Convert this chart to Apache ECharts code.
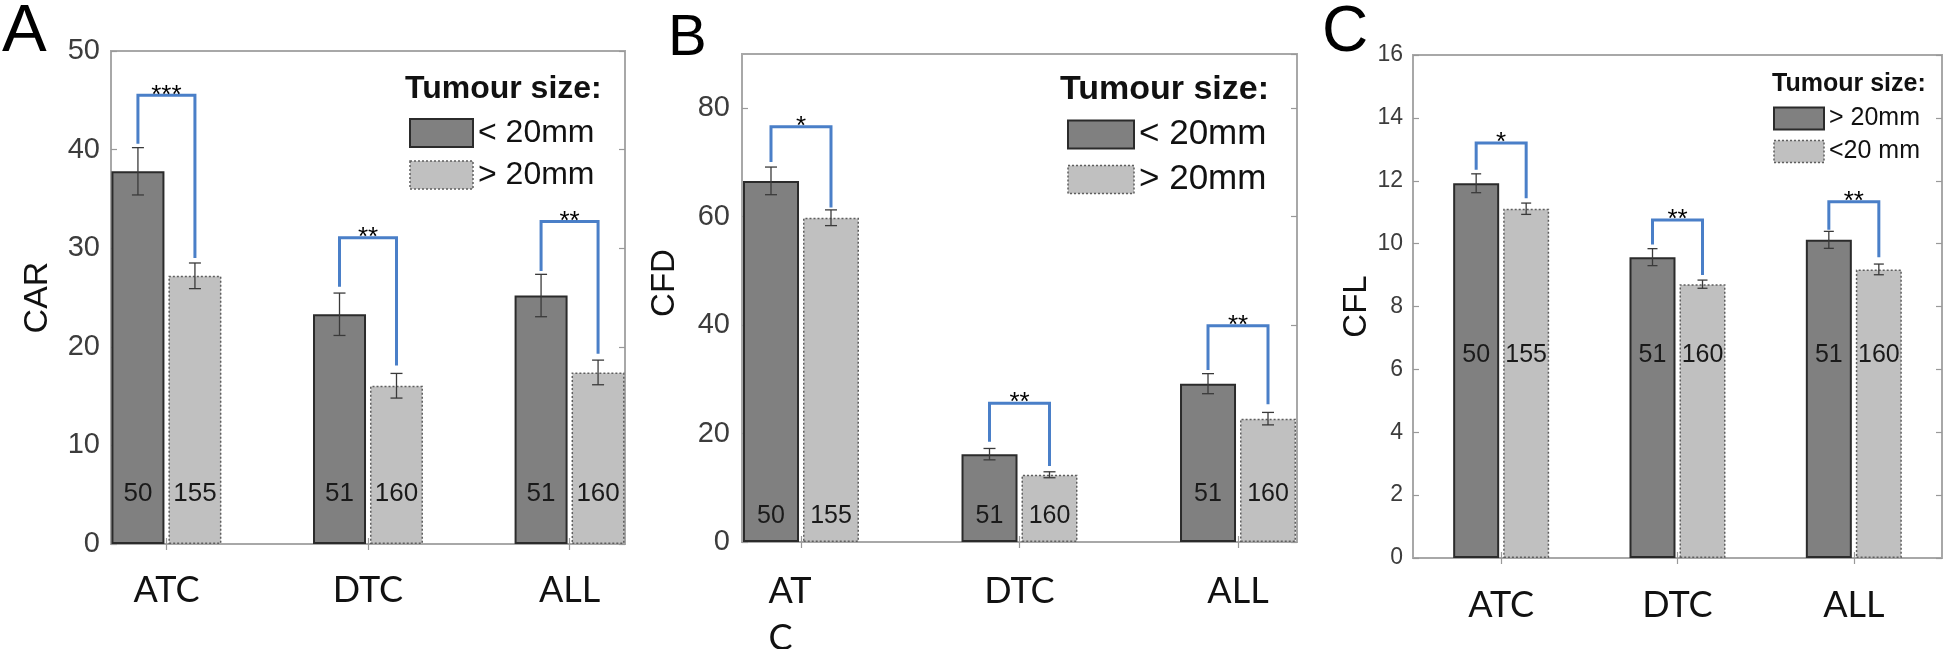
<!DOCTYPE html>
<html>
<head>
<meta charset="utf-8">
<script src="https://cdn.jsdelivr.net/npm/echarts@6/dist/echarts.min.js"></script>
<style>
  html, body { margin: 0; padding: 0; background: #fff; }
  #chart { width: 1946px; height: 649px; }
</style>
</head>
<body>
<div id="chart"></div>
<script>
var categories = ['ATC', 'DTC', 'ALL'];

// panel A - CAR
var carSmall = [37.8, 23.3, 25.2];
var carSmallErr = [2.4, 2.15, 2.15];
var carLarge = [27.2, 16.05, 17.4];
var carLargeErr = [1.3, 1.25, 1.25];
var carCountSmall = [50, 51, 51];
var carCountLarge = [155, 160, 160];
var carCountY = [5.1, 5.1, 5.1];
var carBracket = [[40.6, 45.5, 29.0], [26.1, 31.05, 18.1], [27.7, 32.7, 19.3]];
var carStars = ['***', '**', '**'];

// panel B - CFD
var cfdSmall = [66.6, 16.2, 29.2];
var cfdSmallErr = [2.55, 1.05, 1.85];
var cfdLarge = [59.8, 12.4, 22.75];
var cfdLargeErr = [1.45, 0.55, 1.15];
var cfdCountSmall = [50, 51, 51];
var cfdCountLarge = [155, 160, 160];
var cfdCountY = [4.8, 4.8, 8.85];
var cfdBracket = [[70.1, 76.6, 61.7], [18.5, 25.6, 14.0], [31.7, 39.9, 25.4]];
var cfdStars = ['*', '**', '**'];

// panel C - CFL
var cflDark = [11.92, 9.57, 10.12];
var cflDarkErr = [0.3, 0.27, 0.27];
var cflLight = [11.11, 8.71, 9.18];
var cflLightErr = [0.18, 0.13, 0.17];
var cflCountDark = [50, 51, 51];
var cflCountLight = [155, 160, 160];
var cflCountY = [6.45, 6.45, 6.45];
var cflBracket = [[12.35, 13.2, 11.44], [9.97, 10.75, 9.0], [10.44, 11.33, 9.57]];
var cflStars = ['*', '**', '**'];

var sans = "'Liberation Sans', Arial, sans-serif";
var darkStyle = { color: '#808080', borderColor: '#2b2b2b', borderWidth: 2, borderType: 'solid' };
var lightStyle = { color: '#c0c0c0', borderColor: '#5e5e5e', borderWidth: 1.5, borderType: [2, 2] };

var panels = [
  { letter: 'A', letterPos: [2, -1, 67], yName: 'CAR', nameGap: 56, nameFont: 34, namePad: [0, 0, 0, 0],
    grid: { left: 111, top: 51, width: 514, height: 493 }, xMin: 0.725, xMax: 3.275,
    yMax: 50, yStep: 10, yFont: 29, yMargin: 11, xMargin: 28, lineH: null,
    barW: 53, gap: 4, cap: 6, starFont: 26, countFont: 26,
    names: ['< 20mm', '> 20mm'], dark: carSmall, darkErr: carSmallErr, light: carLarge, lightErr: carLargeErr,
    nDark: carCountSmall, nLight: carCountLarge, nY: carCountY, bracket: carBracket, stars: carStars,
    legendTitle: [405, 73, 32], legend: [409, 117, 63, 28, 10, 32] },
  { letter: 'B', letterPos: [668, 10, 58], yName: 'CFD', nameGap: 61, nameFont: 33, namePad: [0, 0, 0, 30],
    grid: { left: 742, top: 54, width: 555, height: 488 }, xMin: 0.73, xMax: 3.27,
    yMax: 90, yStep: 20, yFont: 29, yMargin: 12, xMargin: 26, lineH: 47,
    barW: 56, gap: 4, cap: 6, starFont: 26, countFont: 25,
    names: ['< 20mm', '> 20mm'], dark: cfdSmall, darkErr: cfdSmallErr, light: cfdLarge, lightErr: cfdLargeErr,
    nDark: cfdCountSmall, nLight: cfdCountLarge, nY: cfdCountY, bracket: cfdBracket, stars: cfdStars,
    legendTitle: [1060, 73, 34], legend: [1067, 117, 66, 28, 10, 35] },
  { letter: 'C', letterPos: [1322, 1, 64], yName: 'CFL', nameGap: 35, nameFont: 33, namePad: [0, 0, 0, 0],
    grid: { left: 1413, top: 55, width: 529, height: 503 }, xMin: 0.5, xMax: 3.5,
    yMax: 16, yStep: 2, yFont: 23, yMargin: 10, xMargin: 29, lineH: null,
    barW: 46, gap: 4, cap: 5, starFont: 26, countFont: 25,
    names: ['> 20mm', '<20 mm'], dark: cflDark, darkErr: cflDarkErr, light: cflLight, lightErr: cflLightErr,
    nDark: cflCountDark, nLight: cflCountLight, nY: cflCountY, bracket: cflBracket, stars: cflStars,
    legendTitle: [1772, 72, 25], legend: [1773, 106, 50, 22, 8, 25] }
];

function errorItem(off, cap) {
  return function (params, api) {
    var c = api.value(0), v = api.value(1), e = api.value(2);
    var x = api.coord([c, v])[0] + api.value(3) * off;
    var hi = api.coord([c, v + e])[1];
    var lo = api.coord([c, v - e])[1];
    var st = { stroke: '#3a3a3a', lineWidth: 1.3 };
    return { type: 'group', children: [
      { type: 'line', shape: { x1: x, y1: hi, x2: x, y2: lo }, style: st },
      { type: 'line', shape: { x1: x - cap, y1: hi, x2: x + cap, y2: hi }, style: st },
      { type: 'line', shape: { x1: x - cap, y1: lo, x2: x + cap, y2: lo }, style: st }
    ] };
  };
}

function bracketItem(off, stars, font) {
  return function (params, api) {
    var c = api.value(0);
    var xm = api.coord([c, 0])[0];
    var y1 = api.coord([c, api.value(1)])[1];
    var yt = api.coord([c, api.value(2)])[1];
    var y2 = api.coord([c, api.value(3)])[1];
    return { type: 'group', children: [
      { type: 'polyline', shape: { points: [[xm - off, y1], [xm - off, yt], [xm + off, yt], [xm + off, y2]] },
        style: { stroke: '#4a7fc8', lineWidth: 3, fill: null } },
      { type: 'text', x: xm, y: yt, style: { text: stars[params.dataIndex], fill: '#000',
        font: font + 'px ' + sans, align: 'center', verticalAlign: 'middle' } }
    ] };
  };
}

function countItem(off, font) {
  return function (params, api) {
    var p = api.coord([api.value(0), api.value(1)]);
    return { type: 'text', x: p[0] + api.value(2) * off, y: p[1],
      style: { text: String(api.value(3)), fill: '#1a1a1a', font: font + 'px ' + sans,
        align: 'center', verticalAlign: 'middle' } };
  };
}

var option = {
  animation: false,
  title: [], legend: [], grid: [], xAxis: [], yAxis: [], series: []
};

panels.forEach(function (p, gi) {
  var xi = gi * 2;
  var off = (p.barW + p.gap) / 2;
  option.grid.push(Object.assign({ show: true, borderColor: '#a8a8a8', borderWidth: 2,
    containLabel: false, outerBoundsMode: 'none' }, p.grid));

  option.title.push({ text: p.letter, left: p.letterPos[0], top: p.letterPos[1], padding: 0,
    textStyle: { fontSize: p.letterPos[2], fontWeight: 'normal', color: '#000', fontFamily: sans } });
  option.title.push({ text: 'Tumour size:', left: p.legendTitle[0], top: p.legendTitle[1], padding: 0,
    textStyle: { fontSize: p.legendTitle[2], fontWeight: 'bold', color: '#111', fontFamily: sans } });

  option.legend.push({
    orient: 'vertical', left: p.legend[0], top: p.legend[1], padding: 0,
    itemWidth: p.legend[2], itemHeight: p.legend[3], itemGap: p.legend[4], icon: 'rect',
    selectedMode: false,
    textStyle: { fontSize: p.legend[5], color: '#111', fontFamily: sans },
    data: [{ name: p.names[0], itemStyle: darkStyle }, { name: p.names[1], itemStyle: lightStyle }]
  });

  var tickOpt = { show: true, inside: true, length: 6, lineStyle: { color: '#999', width: 1.2 } };
  option.xAxis.push({
    type: 'value', gridIndex: gi, min: p.xMin, max: p.xMax, position: 'bottom',
    splitLine: { show: false }, axisLine: { show: false },
    axisTick: Object.assign({ customValues: [1, 2, 3] }, tickOpt),
    axisLabel: {
      customValues: [1, 2, 3], margin: p.xMargin, fontSize: 36, fontFamily: 'Lato, sans-serif', color: '#111',
      lineHeight: p.lineH || undefined,
      formatter: function (v) {
        var name = categories[Math.round(v) - 1];
        // panel B wraps its first label
        if (p.letter === 'B' && name === 'ATC') return '{a|AT}\n{a|C}';
        return name;
      },
      rich: { a: { align: 'left', fontSize: 36, fontFamily: 'Lato, sans-serif', color: '#111',
        lineHeight: 47, padding: [0, 22, 0, 0] } }
    }
  });
  option.xAxis.push({
    type: 'value', gridIndex: gi, min: p.xMin, max: p.xMax, position: 'top',
    splitLine: { show: false }, axisLine: { show: false }, axisLabel: { show: false },
    axisTick: Object.assign({ customValues: [1, 2, 3] }, tickOpt)
  });
  option.yAxis.push({
    type: 'value', gridIndex: gi, min: 0, max: p.yMax, interval: p.yStep, position: 'left',
    name: p.yName, nameLocation: 'middle', nameGap: p.nameGap,
    nameTextStyle: { fontSize: p.nameFont, color: '#111', fontFamily: sans, padding: p.namePad },
    splitLine: { show: false }, axisLine: { show: false }, axisTick: tickOpt,
    axisLabel: { fontSize: p.yFont, color: '#3c3c3c', fontFamily: sans, margin: p.yMargin, showMaxLabel: p.yMax % p.yStep === 0 }
  });
  option.yAxis.push({
    type: 'value', gridIndex: gi, min: 0, max: p.yMax, interval: p.yStep, position: 'right',
    splitLine: { show: false }, axisLine: { show: false }, axisLabel: { show: false }, axisTick: tickOpt
  });

  var pos = function (arr) { return arr.map(function (v, i) { return [i + 1, v]; }); };
  var gapPct = (p.gap / p.barW * 100).toFixed(1) + '%';
  option.series.push({
    type: 'bar', name: p.names[0], xAxisIndex: xi, yAxisIndex: xi, data: pos(p.dark),
    barWidth: p.barW, barGap: gapPct, itemStyle: darkStyle, silent: true
  });
  option.series.push({
    type: 'bar', name: p.names[1], xAxisIndex: xi, yAxisIndex: xi, data: pos(p.light),
    barWidth: p.barW, barGap: gapPct, itemStyle: lightStyle, silent: true
  });

  var errData = [], cntData = [];
  for (var i = 0; i < categories.length; i++) {
    errData.push([i + 1, p.dark[i], p.darkErr[i], -1]);
    errData.push([i + 1, p.light[i], p.lightErr[i], 1]);
    cntData.push([i + 1, p.nY[i], -1, p.nDark[i]]);
    cntData.push([i + 1, p.nY[i], 1, p.nLight[i]]);
  }
  option.series.push({
    type: 'custom', xAxisIndex: xi, yAxisIndex: xi, silent: true, z: 5,
    encode: { x: 0, y: 1 }, data: errData, renderItem: errorItem(off, p.cap)
  });
  option.series.push({
    type: 'custom', xAxisIndex: xi, yAxisIndex: xi, silent: true, z: 6,
    encode: { x: 0, y: 1 }, data: cntData, renderItem: countItem(off, p.countFont)
  });
  option.series.push({
    type: 'custom', xAxisIndex: xi, yAxisIndex: xi, silent: true, z: 6,
    encode: { x: 0, y: 2 },
    data: p.bracket.map(function (b, i) { return [i + 1, b[0], b[1], b[2]]; }),
    renderItem: bracketItem(off, p.stars, p.starFont)
  });
});

var myChart = echarts.init(document.getElementById('chart'));
myChart.setOption(option);
</script>
</body>
</html>
